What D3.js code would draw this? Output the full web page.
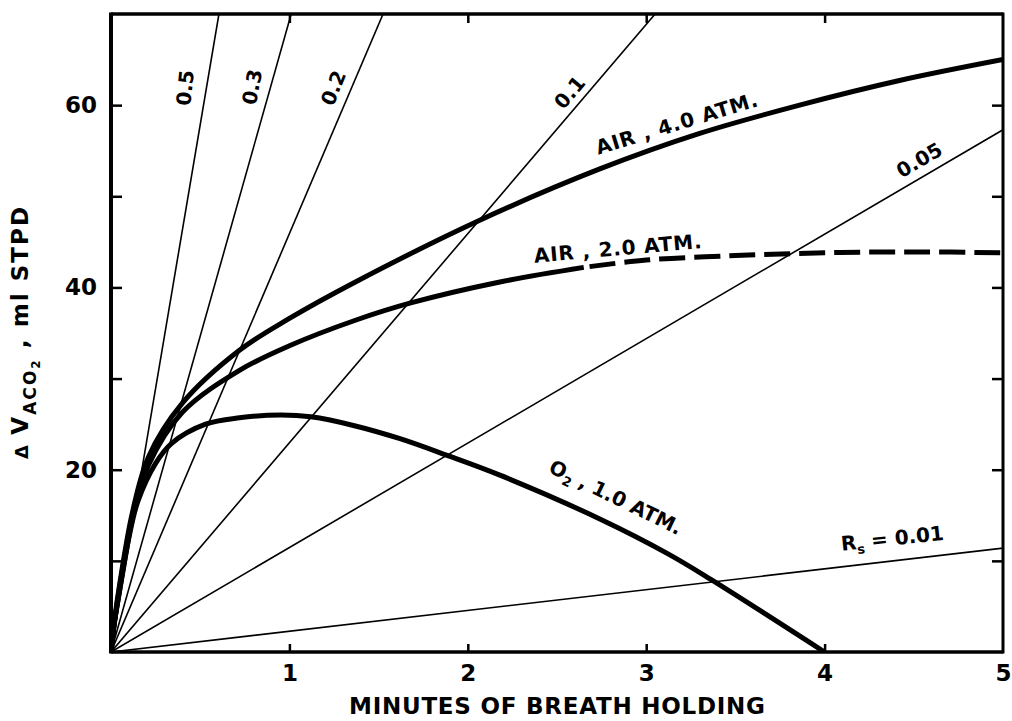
<!DOCTYPE html>
<html><head><meta charset="utf-8">
<script src="https://cdn.jsdelivr.net/npm/d3@7"></script>
<style>
body{margin:0;background:#fff}
text{font-family:"DejaVu Sans",sans-serif;font-weight:bold;fill:#000}
</style>
</head><body>
<svg id="chart" width="1012" height="721"></svg>
<script>
// ---- data ----
const xTickValues = [1, 2, 3, 4, 5];
const yTickValues = [10, 20, 30, 40, 50, 60];
const yTickLabels = [20, 40, 60];

// iso-R lines from origin: label, end time (min), end value (ml)
const rayLabels = ["0.5", "0.3", "0.2", "0.1", "0.05", "0.01"];
const rayEndT   = [0.605, 1.01, 1.525, 3.05, 5.0, 5.0];
const rayEndV   = [70, 70, 70, 70, 57.3, 11.4];

// AIR, 4.0 ATM
const air4T = [0, 0.02, 0.05, 0.12, 0.21, 0.40, 0.72, 1.0, 1.37, 2.07, 2.74, 3.30, 3.86, 4.42, 5.0];
const air4V = [0, 3.5, 7.6, 15.3, 21.4, 27.3, 33.1, 36.6, 40.6, 47.4, 53.0, 56.9, 60.0, 62.7, 65.0];

// AIR, 2.0 ATM (solid up to air2DashFrom, dashed after)
const air2T = [0, 0.02, 0.05, 0.12, 0.21, 0.40, 0.72, 1.0, 1.37, 1.68, 2.18, 2.65, 3.0, 3.5, 4.0, 4.5, 5.0];
const air2V = [0, 3.4, 7.3, 14.8, 20.5, 26.3, 30.9, 33.6, 36.4, 38.3, 40.6, 42.2, 43.0, 43.5, 43.8, 43.9, 43.8];
const air2DashFrom = 2.65;

// O2, 1.0 ATM
const o2T = [0, 0.02, 0.05, 0.10, 0.15, 0.25, 0.34, 0.53, 0.72, 0.95, 1.12, 1.37, 1.62, 1.88, 2.18, 2.74, 3.12, 3.36, 4.0];
const o2V = [0, 3.3, 7.0, 12.5, 16.5, 20.7, 22.9, 25.0, 25.7, 26.0, 25.8, 24.8, 23.4, 21.6, 19.4, 14.6, 10.8, 8.0, 0];

// ---- chart ----
const svg = d3.select("#chart");
const x = d3.scaleLinear().domain([0, 5]).range([111, 1003]);
const y = d3.scaleLinear().domain([0, 70]).range([652, 14]);

svg.append("defs").append("clipPath").attr("id", "clip")
  .append("rect").attr("x", x(0)).attr("y", y(70)).attr("width", x(5) - x(0)).attr("height", y(0) - y(70));

const plot = svg.append("g").attr("clip-path", "url(#clip)");

// rays
rayLabels.forEach((r, i) => {
  plot.append("line")
    .attr("x1", x(0)).attr("y1", y(0))
    .attr("x2", x(rayEndT[i])).attr("y2", y(rayEndV[i]))
    .attr("stroke", "#000").attr("stroke-width", 1.6);
});

const line = d3.line().x(d => x(d[0])).y(d => y(d[1])).curve(d3.curveCatmullRom.alpha(0.5));
const zip = (a, b) => a.map((t, i) => [t, b[i]]);

plot.append("path").attr("d", line(zip(air4T, air4V)))
  .attr("fill", "none").attr("stroke", "#000").attr("stroke-width", 5);

const air2 = zip(air2T, air2V);
plot.append("path").attr("d", line(air2.filter(d => d[0] <= air2DashFrom)))
  .attr("fill", "none").attr("stroke", "#000").attr("stroke-width", 5);
plot.append("path").attr("d", line(air2.filter(d => d[0] >= air2DashFrom)))
  .attr("fill", "none").attr("stroke", "#000").attr("stroke-width", 5)
  .attr("stroke-dasharray", "26 9").attr("stroke-dashoffset", -6);

plot.append("path").attr("d", line(zip(o2T, o2V)))
  .attr("fill", "none").attr("stroke", "#000").attr("stroke-width", 5);

// axes (inward ticks)
const fmt = d3.format("d");
const gl = svg.append("g").attr("transform", `translate(${x(0)},0)`)
  .call(d3.axisLeft(y).tickValues(yTickValues).tickSizeInner(-11).tickSizeOuter(0).tickPadding(14)
    .tickFormat(d => yTickLabels.includes(d) ? fmt(d) : ""));
const gr = svg.append("g").attr("transform", `translate(${x(5)},0)`)
  .call(d3.axisRight(y).tickValues(yTickValues).tickSizeInner(-11).tickSizeOuter(0).tickFormat(""));
const gb = svg.append("g").attr("transform", `translate(0,${y(0)})`)
  .call(d3.axisBottom(x).tickValues(xTickValues).tickSizeInner(-8).tickSizeOuter(0).tickPadding(13).tickFormat(fmt));
const gt = svg.append("g").attr("transform", `translate(0,${y(70)})`)
  .call(d3.axisTop(x).tickValues(xTickValues.slice(0, 4)).tickSizeInner(-9).tickSizeOuter(0).tickFormat(""));
[gl, gr, gb, gt].forEach(g => {
  g.select(".domain").remove();
  g.selectAll(".tick line").attr("stroke", "#000").attr("stroke-width", 2.5);
  g.selectAll(".tick text").style("font-size", "23px").style("font-family", "DejaVu Sans").style("font-weight", "bold").attr("fill", "#000");
});
gb.selectAll(".tick line").filter(d => d === 5).remove();

// frame
const fr = svg.append("g").attr("stroke", "#000").attr("fill", "none");
fr.append("line").attr("x1", x(0)).attr("x2", x(0)).attr("y1", y(70) - 1.5).attr("y2", y(0) + 1.5).attr("stroke-width", 4);
fr.append("line").attr("x1", x(0)).attr("x2", x(5)).attr("y1", y(0)).attr("y2", y(0)).attr("stroke-width", 3.5);
fr.append("line").attr("x1", x(0)).attr("x2", x(5)).attr("y1", y(70)).attr("y2", y(70)).attr("stroke-width", 3.5);
fr.append("line").attr("x1", x(5)).attr("x2", x(5)).attr("y1", y(70) - 1.5).attr("y2", y(0) + 1.5).attr("stroke-width", 3);

// ray labels: position (t, v), rotation
const rayLabT = [0.415, 0.79, 1.245, 2.57, 4.53];
const rayLabV = [61.9, 62.0, 61.9, 61.4, 54.0];
const rayLabA = [-84, -79, -68, -50, -30];
rayLabT.forEach((t, i) => {
  svg.append("text")
    .attr("transform", `translate(${x(t)},${y(rayLabV[i])}) rotate(${rayLabA[i]})`)
    .attr("text-anchor", "middle").attr("dy", "0.36em")
    .style("font-size", "20px").text(rayLabels[i]);
});

// Rs = 0.01
const rs = svg.append("text")
  .attr("transform", `translate(${x(4.38)},${y(12.5)}) rotate(-6)`)
  .attr("text-anchor", "middle").attr("dy", "0.36em").style("font-size", "20px");
rs.append("tspan").text("R");
rs.append("tspan").attr("dy", 5).style("font-size", "13px").text("s");
rs.append("tspan").attr("dy", -5).text(" = " + rayLabels[5]);

// curve labels
svg.append("text")
  .attr("transform", `translate(${x(3.17)},${y(58.0)}) rotate(-17)`)
  .attr("text-anchor", "middle").attr("dy", "0.36em").style("font-size", "20px")
  .attr("textLength", 168).attr("lengthAdjust", "spacing")
  .text("AIR ,  4.0 ATM.");
svg.append("text")
  .attr("transform", `translate(${x(2.84)},${y(44.3)}) rotate(-5)`)
  .attr("text-anchor", "middle").attr("dy", "0.36em").style("font-size", "20px")
  .attr("textLength", 168).attr("lengthAdjust", "spacing")
  .text("AIR ,  2.0 ATM.");
const o2l = svg.append("text")
  .attr("transform", `translate(${x(2.83)},${y(17.0)}) rotate(26)`)
  .attr("text-anchor", "middle").attr("dy", "0.36em").style("font-size", "20px");
o2l.append("tspan").text("O");
o2l.append("tspan").attr("dy", 5).style("font-size", "13px").text("2");
o2l.append("tspan").attr("dy", -5).text(" ,  1.0 ATM.");

// axis titles
svg.append("text")
  .attr("x", (x(0) + x(5)) / 2).attr("y", 714)
  .attr("text-anchor", "middle").style("font-size", "23px")
  .attr("textLength", 416).attr("lengthAdjust", "spacing")
  .text("MINUTES OF BREATH HOLDING");

const yt = svg.append("text")
  .attr("transform", `translate(28,${(y(0) + y(70)) / 2}) rotate(-90)`)
  .attr("text-anchor", "middle").style("font-size", "23px")
  .attr("textLength", 252).attr("lengthAdjust", "spacing");
yt.append("tspan").style("font-size", "18px").text("Δ ");
yt.append("tspan").text("V");
yt.append("tspan").attr("dy", 8).style("font-size", "17px").text("ACO");
yt.append("tspan").attr("dy", 4).style("font-size", "12px").text("2");
yt.append("tspan").attr("dy", -12).text(" ,  ml STPD");
</script>
</body></html>
